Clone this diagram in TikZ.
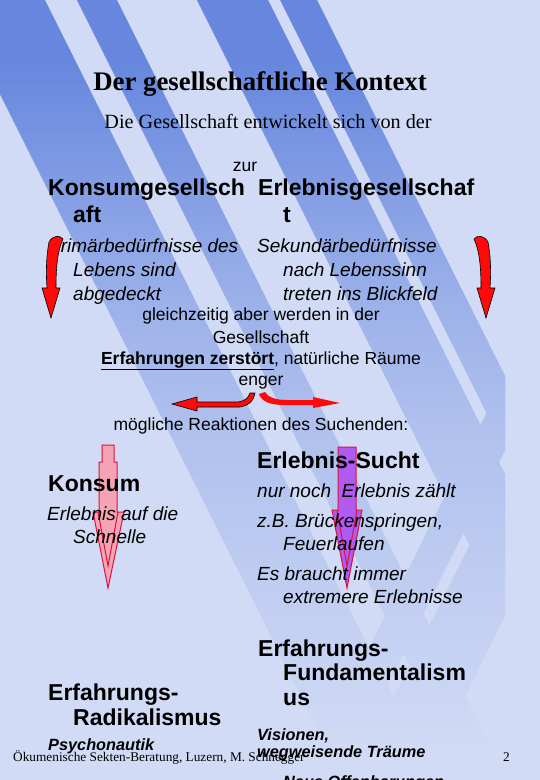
\documentclass[tikz,border=0pt]{standalone}
\usepackage{fontspec}
\setmainfont{Liberation Serif}
\setsansfont{Liberation Sans}

\definecolor{slidebg}{HTML}{D1DBF5}
\definecolor{stripeA}{HTML}{6787DE}
\definecolor{arrowred}{HTML}{FF0A0A}
\definecolor{crimson}{HTML}{D8143E}
\definecolor{konsumpink}{HTML}{F7A3B6}
\definecolor{suchtviolet}{HTML}{B15AF2}

\tikzset{
  txt/.style={inner sep=0pt, anchor=base west},
  titletext/.style={txt, anchor=base, font=\bfseries\fontsize{26.8}{30}\selectfont},
  subtext/.style={txt, anchor=base, font=\fontsize{20.2}{24}\selectfont},
  headtext/.style={txt, font=\sffamily\bfseries\fontsize{23}{27}\selectfont},
  bodytext/.style={txt, font=\sffamily\fontsize{17.5}{21}\selectfont},
  bodyital/.style={txt, font=\sffamily\itshape\fontsize{19}{23}\selectfont},
  boldital/.style={txt, font=\sffamily\bfseries\itshape\fontsize{16.3}{20}\selectfont},
  foottext/.style={txt, font=\fontsize{13.3}{16}\selectfont},
  redarrow/.style={fill=arrowred, draw=black, line width=0.6pt},
  blockarrow/.style={draw=crimson, line width=1pt, line join=miter},
  stripeclip/.style={insert path={
    (-52,-10) -- (40,-10) -- (445,800) -- (353,800) -- cycle
    (72,-10) -- (112,-10) -- (517,800) -- (477,800) -- cycle
    (192,-10) -- (263,-10) -- (668,800) -- (597,800) -- cycle
    (275,-10) -- (312,-10) -- (717,800) -- (680,800) -- cycle}},
}

\newcommand\fadebands{%
  \foreach \y in {0,5,...,775} {
    \pgfmathsetmacro\pc{\y<60 ? 100 : (\y<300 ? 100-(\y-60)*0.2083 :
      (\y<430 ? 50-(\y-300)*0.146 : max(0,31-(\y-430)*0.094)))}
    \fill[stripeA!\pc!slidebg] (-100,\y) rectangle (1100,\y+5.5);
  }}

\begin{document}
\begin{tikzpicture}[x=1pt, y=-1pt]
  \useasboundingbox (0,0) rectangle (540,780);
  \clip (0,0) rectangle (540,780);
  \fill[slidebg] (0,0) rectangle (540,780);

  % background stripes, folded back at the right
  \begin{scope}
    \clip (-10,-10) rectangle (505,800);
    \path[clip, stripeclip];
    \fadebands
  \end{scope}
  \begin{scope}[shift={(1010,0)}, xscale=-1]
    \clip (505,-10) rectangle (1100,800);
    \path[clip, stripeclip];
    \fadebands
  \end{scope}

  % block arrows behind the text
  \filldraw[blockarrow, fill=konsumpink] (99,462) -- (99,512) -- (93,512) -- (108,588)
    -- (124,512) -- (117,512) -- (117,462) -- (114,462) -- (114,445) -- (102,445)
    -- (102,462) -- cycle;
  \draw[blockarrow] (98,512) -- (108,566) -- (118,512);
  \filldraw[blockarrow, fill=suchtviolet] (338,447) -- (338,510) -- (332,510) -- (347,588)
    -- (362,510) -- (356,510) -- (356,447) -- cycle;
  \draw[blockarrow] (337,510) -- (347,566) -- (357,510);

  % title
  \node[titletext] (title) at (260,90) {Der gesellschaftliche Kontext};
  \node[subtext] (intro) at (268,128) {Die Gesellschaft entwickelt sich von der};
  \node[bodytext, anchor=base] (zur) at (245,171) {zur};

  % two societies
  \node[headtext] (konsumA) at (48,195) {Konsumgesellsch};
  \node[headtext] (konsumB) at (73,222) {aft};
  \node[headtext] (erlebA) at (258,195) {Erlebnisgesellschaf};
  \node[headtext] (erlebB) at (283,222) {t};

  \node[bodyital] (primA) at (48,252) {Primärbedürfnisse des};
  \node[bodyital] (primB) at (73,276) {Lebens sind};
  \node[bodyital] (primC) at (73,300) {abgedeckt};
  \node[bodyital] (sekA) at (257,252) {Sekundärbedürfnisse};
  \node[bodyital] (sekB) at (283,276) {nach Lebenssinn};
  \node[bodyital] (sekC) at (283,300) {treten ins Blickfeld};

  \node[bodytext, anchor=base] (gleichA) at (261,320) {gleichzeitig aber werden in der};
  \node[bodytext, anchor=base] (gleichB) at (261,343) {Gesellschaft};
  \node[bodytext, anchor=base] (gleichC) at (261,364)
    {\textbf{\underline{Erfahrungen zerstört}}, natürliche Räume};
  \node[bodytext, anchor=base] (gleichD) at (261,385) {enger};
  \node[bodytext, anchor=base] (reakt) at (261,430) {mögliche Reaktionen des Suchenden:};

  % reactions
  \node[headtext] (sucht) at (257,468) {Erlebnis-Sucht};
  \node[headtext] (konsum) at (48,491) {Konsum};
  \node[bodyital] (suchtA) at (257,497) {nur noch\ \ Erlebnis zählt};
  \node[bodyital] (konsumC) at (47,520) {Erlebnis auf die};
  \node[bodyital] (konsumD) at (73,543) {Schnelle};
  \node[bodyital] (suchtB) at (257,527) {z.B. Brückenspringen,};
  \node[bodyital] (suchtC) at (283,550) {Feuerlaufen};
  \node[bodyital] (suchtD) at (257,580) {Es braucht immer};
  \node[bodyital] (suchtE) at (283,603) {extremere Erlebnisse};

  \node[headtext] (fundA) at (258,656) {Erfahrungs-};
  \node[headtext] (fundB) at (283,680) {Fundamentalism};
  \node[headtext] (fundC) at (283,705) {us};
  \node[headtext] (radA) at (48,700) {Erfahrungs-};
  \node[headtext] (radB) at (73,725) {Radikalismus};
  \node[boldital] (fundD) at (257,740) {Visionen,};
  \node[boldital] (radC) at (48,750) {Psychonautik};

  % footer
  \node[foottext] (footer) at (13,761) {Ökumenische Sekten-Beratung, Luzern, M. Schnegger};
  \node[foottext] (pageno) at (503,761) {2};
  \node[boldital] (fundE) at (257,757) {wegweisende Träume};
  \node[boldital] (fundF) at (283,787) {Neue Offenbarungen};

  % red bent arrows on top
  \begin{scope}[shift={(537,0)}, xscale=-1]
    \filldraw[redarrow] (474,239) .. controls (477,235) and (484,235) .. (488,242)
      .. controls (491,258) and (491,274) .. (490,288) -- (495,288) -- (486,318)
      -- (477,288) -- (481,288) .. controls (481,270) and (480,252) .. (474,239) -- cycle;
  \end{scope}
  \filldraw[redarrow] (474,239) .. controls (477,235) and (484,235) .. (488,242)
    .. controls (491,258) and (491,274) .. (490,288) -- (495,288) -- (486,318)
    -- (477,288) -- (481,288) .. controls (481,270) and (480,252) .. (474,239) -- cycle;

  \filldraw[redarrow] (197,402) -- (197,397) -- (172,404) -- (197,411) -- (197,407)
    -- (240,407) .. controls (250,405) and (254,400) .. (255,393) -- (250,393)
    .. controls (248,398) and (245,401) .. (238,402) -- cycle;
  \fill[arrowred] (259,394) .. controls (262,402) and (270,405) .. (285,405)
    -- (313,405) -- (313,408) -- (340,403) -- (313,397) -- (313,400) -- (287,400)
    .. controls (275,400) and (268,397) .. (265,392) -- cycle;
\end{tikzpicture}
\end{document}
